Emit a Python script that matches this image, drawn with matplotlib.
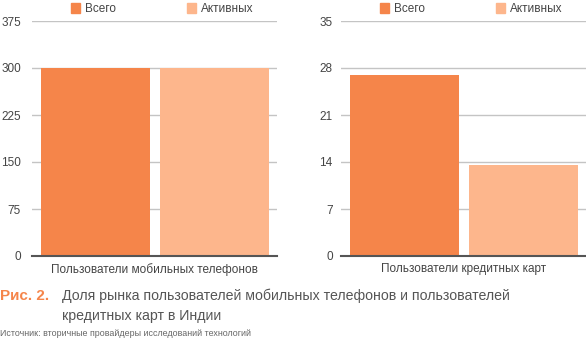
import numpy as np
import matplotlib
matplotlib.use('Agg')
import matplotlib.pyplot as plt
from matplotlib.patches import Patch

plt.rcParams['font.family'] = ['Liberation Sans', 'DejaVu Sans']

series = ['Всего', 'Активных']
colors = ['#f5854a', '#fdb68c']

mobile_cat = 'Пользователи мобильных телефонов'
mobile_vals = [300, 300]
mobile_ticks = [0, 75, 150, 225, 300, 375]

card_cat = 'Пользователи кредитных карт'
card_vals = [27, 13.5]
card_ticks = [0, 7, 14, 21, 28, 35]

fig = plt.figure(figsize=(5.86, 3.42), dpi=100)
ax1 = fig.add_axes([32/586, 1-256/342, 245/586, 235/342])
ax2 = fig.add_axes([341/586, 1-256/342, 245/586, 235/342])

def draw(ax, vals, ticks, cat, pad):
    x = np.arange(len(vals))
    ax.bar(x, vals, width=0.91, color=colors, zorder=3)
    ax.set_xlim(-0.53, 1.52)
    ax.set_ylim(ticks[0], ticks[-1])
    ax.set_yticks(ticks)
    ax.set_yticklabels([str(t) for t in ticks])
    ax.grid(axis='y', color='#c4c4c4', lw=1.0, zorder=0)
    ax.set_xticks([])
    ax.set_xlabel(cat, fontsize=8.5, color='#444444', labelpad=5)
    for s in ['top', 'right', 'left']:
        ax.spines[s].set_visible(False)
    ax.spines['bottom'].set_color('#555555')
    ax.spines['bottom'].set_linewidth(1.5)
    ax.spines['bottom'].set_zorder(4)
    ax.tick_params(axis='y', length=0, pad=pad, labelsize=8.5, labelcolor='#444444')
    handles = [Patch(color=c, label=s) for c, s in zip(colors, series)]
    ax.legend(handles=handles, ncol=2, loc='lower center', bbox_to_anchor=(0.53, 1.0),
              frameon=False, fontsize=8.5, handlelength=0.8, handleheight=0.8,
              handletextpad=0.4, columnspacing=6.0, borderaxespad=0.1,
              labelcolor='#444444')

draw(ax1, mobile_vals, mobile_ticks, mobile_cat, 8)
draw(ax2, card_vals, card_ticks, card_cat, 6)

fig.text(0.0, 1-296/342, 'Рис. 2.', color='#f5854a', fontsize=11, fontweight='bold', va='center')
fig.text(62/586, 1-296/342, 'Доля рынка пользователей мобильных телефонов и пользователей',
         color='#555555', fontsize=10.2, va='center')
fig.text(62/586, 1-316/342, 'кредитных карт в Индии', color='#555555', fontsize=10.2, va='center')
fig.text(0.0, 1-334/342, 'Источник: вторичные провайдеры исследований технологий',
         color='#666666', fontsize=6.4, va='center')

fig.savefig('out.png', dpi=100)
